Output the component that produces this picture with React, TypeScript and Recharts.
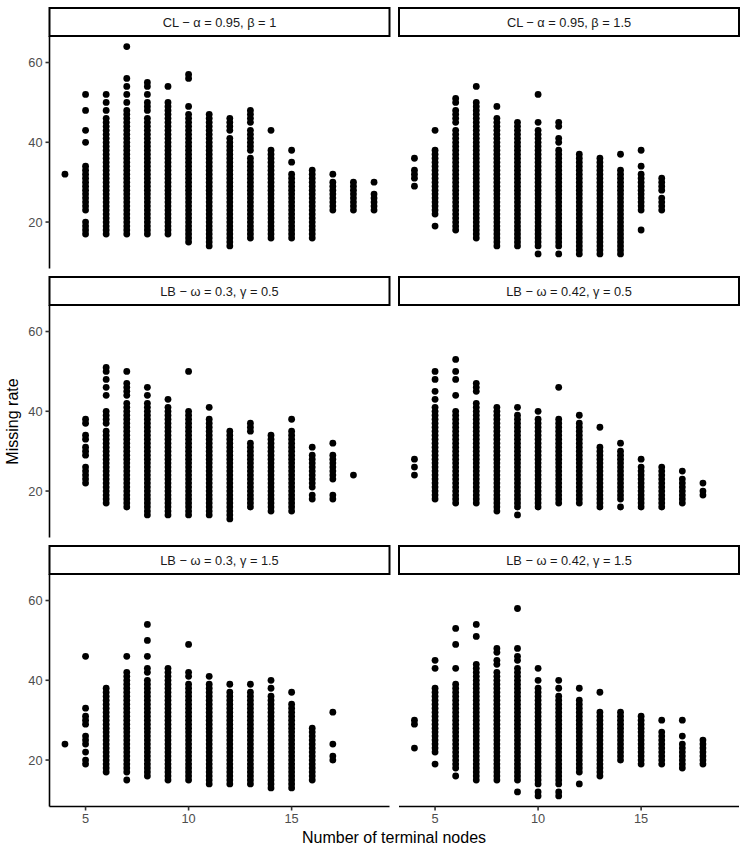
import React from 'react';
import { ScatterChart, Scatter, XAxis, YAxis } from 'recharts';

type Col = [number, number[]];

// CL - alpha = 0.95, beta = 1
const clBeta1: Col[] = [
  [4, [32]],
  [5, [17,18,19,20,23,24,25,26,27,28,29,30,31,32,33,34,40,43,48,52]],
  [6, [17,18,19,20,21,22,23,24,25,26,27,28,29,30,31,32,33,34,35,36,37,38,39,40,41,42,43,44,45,46,48,50,52]],
  [7, [17,18,19,20,21,22,23,24,25,26,27,28,29,30,31,32,33,34,35,36,37,38,39,40,41,42,43,44,45,46,47,48,50,52,54,56,64]],
  [8, [17,18,19,20,21,22,23,24,25,26,27,28,29,30,31,32,33,34,35,36,37,38,39,40,41,42,43,44,45,46,48,49,50,52,54,55]],
  [9, [17,18,19,20,21,22,23,24,25,26,27,28,29,30,31,32,33,34,35,36,37,38,39,40,41,42,43,44,45,46,47,48,49,50,54]],
  [10, [15,16,17,18,19,20,21,22,23,24,25,26,27,28,29,30,31,32,33,34,35,36,37,38,39,40,41,42,43,44,45,46,47,49,56,57]],
  [11, [14,15,16,17,18,19,20,21,22,23,24,25,26,27,28,29,30,31,32,33,34,35,36,37,38,39,40,41,42,43,44,45,46,47]],
  [12, [14,15,16,17,18,19,20,21,22,23,24,25,26,27,28,29,30,31,32,33,34,35,36,37,38,39,40,41,43,44,45,46]],
  [13, [16,17,18,19,20,21,22,23,24,25,26,27,28,29,30,31,32,33,34,35,36,38,39,40,41,42,43,45,46,47,48]],
  [14, [16,17,18,19,20,21,22,23,24,25,26,27,28,29,30,31,32,33,34,35,36,37,38,43]],
  [15, [16,17,18,19,20,21,22,23,24,25,26,27,28,29,30,31,32,35,38]],
  [16, [16,17,18,19,20,21,22,23,24,25,26,27,28,29,30,31,32,33]],
  [17, [23,24,25,26,27,28,29,30,32]],
  [18, [23,24,25,26,27,28,29,30]],
  [19, [23,24,25,26,27,30]],
];

// CL - alpha = 0.95, beta = 1.5
const clBeta15: Col[] = [
  [4, [29,31,32,33,36]],
  [5, [19,22,23,24,25,26,27,28,29,30,31,32,33,34,35,36,37,38,43]],
  [6, [18,19,20,21,22,23,24,25,26,27,28,29,30,31,32,33,34,35,36,37,38,39,40,41,42,43,45,46,47,48,50,51]],
  [7, [16,17,18,19,20,21,22,23,24,25,26,27,28,29,30,31,32,33,34,35,36,37,38,39,40,41,42,43,44,45,46,47,48,49,50,54]],
  [8, [14,15,16,17,18,19,20,21,22,23,24,25,26,27,28,29,30,31,32,33,34,35,36,37,38,39,40,41,42,43,44,45,46,49]],
  [9, [14,15,16,17,18,19,20,21,22,23,24,25,26,27,28,29,30,31,32,33,34,35,36,37,38,39,40,41,42,43,44,45]],
  [10, [12,14,15,16,17,18,19,20,21,22,23,24,25,26,27,28,29,30,31,32,33,34,35,36,37,38,39,40,41,42,43,45,52]],
  [11, [12,14,15,16,17,18,19,20,21,22,23,24,25,26,27,28,29,30,31,32,33,34,35,36,37,38,40,41,44,45]],
  [12, [12,13,14,15,16,17,18,19,20,21,22,23,24,25,26,27,28,29,30,31,32,33,34,35,36,37]],
  [13, [12,13,14,15,16,17,18,19,20,21,22,23,24,25,26,27,28,29,30,31,32,33,34,35,36]],
  [14, [12,13,14,15,16,17,18,19,20,21,22,23,24,25,26,27,28,29,30,31,32,33,37]],
  [15, [18,23,24,25,26,27,28,29,30,31,32,34,38]],
  [16, [23,24,25,26,28,29,30,31]],
];

// LB - omega = 0.3, gamma = 0.5
const lbW03G05: Col[] = [
  [5, [22,23,24,25,26,29,30,31,33,34,37,38]],
  [6, [17,18,19,20,21,22,23,24,25,26,27,28,29,30,31,32,33,34,35,37,38,39,40,44,46,48,50,51]],
  [7, [16,17,18,19,20,21,22,23,24,25,26,27,28,29,30,31,32,33,34,35,36,37,38,39,40,41,42,44,45,46,47,50]],
  [8, [14,15,16,17,18,19,20,21,22,23,24,25,26,27,28,29,30,31,32,33,34,35,36,37,38,39,40,41,42,44,46]],
  [9, [14,15,16,17,18,19,20,21,22,23,24,25,26,27,28,29,30,31,32,33,34,35,36,37,38,39,40,41,43]],
  [10, [14,15,16,17,18,19,20,21,22,23,24,25,26,27,28,29,30,31,32,33,34,35,36,37,38,39,40,50]],
  [11, [14,15,16,17,18,19,20,21,22,23,24,25,26,27,28,29,30,31,32,33,34,35,36,37,38,41]],
  [12, [13,14,15,16,17,18,19,20,21,22,23,24,25,26,27,28,29,30,31,32,33,34,35]],
  [13, [16,17,18,19,20,21,22,23,24,25,26,27,28,29,30,31,32,35,36,37]],
  [14, [15,16,17,18,19,20,21,22,23,24,25,26,27,28,29,30,31,32,33,34]],
  [15, [15,16,17,18,19,20,21,22,23,24,25,26,27,28,29,30,31,32,33,34,35,38]],
  [16, [18,19,21,22,23,24,25,26,27,28,29,31]],
  [17, [18,19,23,24,25,26,27,28,29,32]],
  [18, [24]],
];

// LB - omega = 0.42, gamma = 0.5
const lbW042G05: Col[] = [
  [4, [24,26,28]],
  [5, [18,19,20,21,22,23,24,25,26,27,28,29,30,31,32,33,34,35,36,37,38,39,40,41,43,45,48,50]],
  [6, [17,18,19,20,21,22,23,24,25,26,27,28,29,30,31,32,33,34,35,36,37,38,39,40,44,48,50,53]],
  [7, [17,18,19,20,21,22,23,24,25,26,27,28,29,30,31,32,33,34,35,36,37,38,39,40,41,42,45,46,47]],
  [8, [15,16,17,18,19,20,21,22,23,24,25,26,27,28,29,30,31,32,33,34,35,36,37,38,39,40,41]],
  [9, [14,16,17,18,19,20,21,22,23,24,25,26,27,28,29,30,31,32,33,34,35,36,37,38,39,41]],
  [10, [16,17,18,19,20,21,22,23,24,25,26,27,28,29,30,31,32,33,34,35,36,37,38,40]],
  [11, [17,18,19,20,21,22,23,24,25,26,27,28,29,30,31,32,33,34,35,36,37,38,46]],
  [12, [17,18,19,20,21,22,23,24,25,26,27,28,29,30,31,32,33,34,35,36,37,39]],
  [13, [16,17,18,19,20,21,22,23,24,25,26,27,28,29,30,31,36]],
  [14, [16,18,19,20,21,22,23,24,25,26,27,28,29,30,32]],
  [15, [16,17,18,19,20,21,22,23,24,25,26,28]],
  [16, [16,17,18,19,20,21,22,23,24,25,26]],
  [17, [17,18,19,20,21,22,23,25]],
  [18, [19,20,22]],
];

// LB - omega = 0.3, gamma = 1.5
const lbW03G15: Col[] = [
  [4, [24]],
  [5, [19,20,22,24,25,26,29,30,31,33,46]],
  [6, [17,18,19,20,21,22,23,24,25,26,27,28,29,30,31,32,33,34,35,36,37,38]],
  [7, [15,17,18,19,20,21,22,23,24,25,26,27,28,29,30,31,32,33,34,35,36,37,38,39,40,41,42,46]],
  [8, [16,17,18,19,20,21,22,23,24,25,26,27,28,29,30,31,32,33,34,35,36,37,38,39,40,42,43,46,50,54]],
  [9, [15,16,17,18,19,20,21,22,23,24,25,26,27,28,29,30,31,32,33,34,35,36,37,38,39,40,41,42,43]],
  [10, [15,16,17,18,19,20,21,22,23,24,25,26,27,28,29,30,31,32,33,34,35,36,37,38,39,41,42,49]],
  [11, [14,15,16,17,18,19,20,21,22,23,24,25,26,27,28,29,30,31,32,33,34,35,36,37,38,39,41]],
  [12, [14,15,16,17,18,19,20,21,22,23,24,25,26,27,28,29,30,31,32,33,34,35,36,37,39]],
  [13, [14,15,16,17,18,19,20,21,22,23,24,25,26,27,28,29,30,31,32,33,34,35,36,37,39]],
  [14, [13,14,15,16,17,18,19,20,21,22,23,24,25,26,27,28,29,30,31,32,33,34,35,36,38,40]],
  [15, [13,14,15,16,17,18,19,20,21,22,23,24,25,26,27,28,29,30,31,32,33,34,37]],
  [16, [15,16,17,18,19,20,21,22,23,24,25,26,27,28]],
  [17, [20,21,24,32]],
];

// LB - omega = 0.42, gamma = 1.5
const lbW042G15: Col[] = [
  [4, [23,29,30]],
  [5, [19,22,23,24,25,26,27,28,29,30,31,32,33,34,35,36,37,38,43,45]],
  [6, [16,18,19,20,21,22,23,24,25,26,27,28,29,30,31,32,33,34,35,36,37,38,39,43,49,53]],
  [7, [15,16,17,18,19,20,21,22,23,24,25,26,27,28,29,30,31,32,33,34,35,36,37,38,39,40,41,42,43,44,51,54]],
  [8, [15,16,17,18,19,20,21,22,23,24,25,26,27,28,29,30,31,32,33,34,35,36,37,38,39,40,41,42,44,45,47,48]],
  [9, [12,15,16,17,18,19,20,21,22,23,24,25,26,27,28,29,30,31,32,33,34,35,36,37,38,39,40,41,42,43,45,46,48,58]],
  [10, [11,12,14,15,16,17,18,19,20,21,22,23,24,25,26,27,28,29,30,31,32,33,34,35,36,37,38,40,43]],
  [11, [11,12,14,15,16,17,18,19,20,21,22,23,24,25,26,27,28,29,30,31,32,33,34,35,36,38,40]],
  [12, [14,17,18,19,20,21,22,23,24,25,26,27,28,29,30,31,32,33,34,35,38]],
  [13, [16,17,18,19,20,21,22,23,24,25,26,27,28,29,30,31,32,37]],
  [14, [20,21,22,23,24,25,26,27,28,29,30,31,32]],
  [15, [19,20,21,22,23,24,25,26,27,28,29,30,31]],
  [16, [19,20,21,22,23,24,25,26,27,30]],
  [17, [18,19,20,21,22,23,24,26,30]],
  [18, [19,20,21,22,23,24,25]],
];

const panelTitles = [
  'CL \u2212 \u03B1 = 0.95, \u03B2 = 1',
  'CL \u2212 \u03B1 = 0.95, \u03B2 = 1.5',
  'LB \u2212 \u03C9 = 0.3, \u03B3 = 0.5',
  'LB \u2212 \u03C9 = 0.42, \u03B3 = 0.5',
  'LB \u2212 \u03C9 = 0.3, \u03B3 = 1.5',
  'LB \u2212 \u03C9 = 0.42, \u03B3 = 1.5',
];
const panelData = [clBeta1, clBeta15, lbW03G05, lbW042G05, lbW03G15, lbW042G15];

const xTicks = [5, 10, 15];
const yTicks = [20, 40, 60];
const xDomain: [number, number] = [3.25, 19.75];
const yDomain: [number, number] = [8.35, 66.65];

const xTitle = 'Number of terminal nodes';
const yTitle = 'Missing rate';

const FONT = '"Liberation Sans", Arial, Helvetica, sans-serif';
const COL_LEFT = [49.5, 399];
const PANEL_W = 340;
const STRIP_TOP = [8, 277, 546];
const STRIP_H = 28;
const PANEL_H = 232.5;
const Y_AXIS_W = 49.5;
const X_AXIS_H = 40;

const Dot = (p: any) => <circle cx={p.cx} cy={p.cy} r={3.4} fill="#000000" />;

function Panel({ cols, col, row }: { cols: Col[]; col: number; row: number }) {
  const data = cols.flatMap(([x, ys]) => ys.map((y) => ({ x, y })));
  const showY = col === 0;
  const showX = row === 2;
  const yW = showY ? Y_AXIS_W : 0;
  const xH = showX ? X_AXIS_H : 0;
  const width = PANEL_W + yW;
  const height = PANEL_H + xH;
  const left = COL_LEFT[col] - yW;
  const top = STRIP_TOP[row] + STRIP_H;
  const tickStyle = { fill: '#4D4D4D', fontSize: 12.8, fontFamily: FONT };
  return (
    <div style={{ position: 'absolute', left, top, width, height }}>
      <ScatterChart width={width} height={height} margin={{ top: 0, right: 0, bottom: 0, left: 0 }}>
        <XAxis
          type="number"
          dataKey="x"
          domain={xDomain}
          ticks={xTicks}
          interval={0}
          allowDataOverflow
          hide={!showX}
          height={xH}
          axisLine={{ stroke: '#000000', strokeWidth: 1.6 }}
          tickLine={{ stroke: '#333333', strokeWidth: 1.6 }}
          tickSize={4}
          tickMargin={3}
          tick={tickStyle}
        />
        <YAxis
          type="number"
          dataKey="y"
          domain={yDomain}
          ticks={yTicks}
          interval={0}
          allowDataOverflow
          hide={!showY}
          width={yW}
          axisLine={{ stroke: '#000000', strokeWidth: 1.6 }}
          tickLine={{ stroke: '#333333', strokeWidth: 1.6 }}
          tickSize={4}
          tickMargin={3}
          tick={tickStyle}
        />
        <Scatter data={data} isAnimationActive={false} shape={Dot} />
      </ScatterChart>
    </div>
  );
}

export default function App() {
  return (
    <div style={{ position: 'absolute', left: 0, top: 0, width: 747, height: 854, background: '#ffffff', fontFamily: FONT }}>
      {panelData.map((cols, i) => (
        <Panel key={i} cols={cols} col={i % 2} row={Math.floor(i / 2)} />
      ))}
      <svg width={747} height={854} style={{ position: 'absolute', left: 0, top: 0, pointerEvents: 'none' }}>
        {panelTitles.map((t, i) => {
          const col = i % 2;
          const row = Math.floor(i / 2);
          const x = COL_LEFT[col];
          const y = STRIP_TOP[row];
          return (
            <g key={i}>
              <rect x={x} y={y} width={PANEL_W} height={STRIP_H} fill="#ffffff" stroke="#000000" strokeWidth={2} />
              <text
                x={x + PANEL_W / 2}
                y={y + STRIP_H / 2}
                textAnchor="middle"
                dominantBaseline="central"
                fontSize={12.8}
                fill="#1A1A1A"
                fontFamily={FONT}
              >
                {t}
              </text>
            </g>
          );
        })}
        <text x={394} y={843} textAnchor="middle" fontSize={16} fill="#000000" fontFamily={FONT}>
          {xTitle}
        </text>
        <text transform="translate(18.3,421.5) rotate(-90)" textAnchor="middle" fontSize={16} fill="#000000" fontFamily={FONT}>
          {yTitle}
        </text>
      </svg>
    </div>
  );
}
